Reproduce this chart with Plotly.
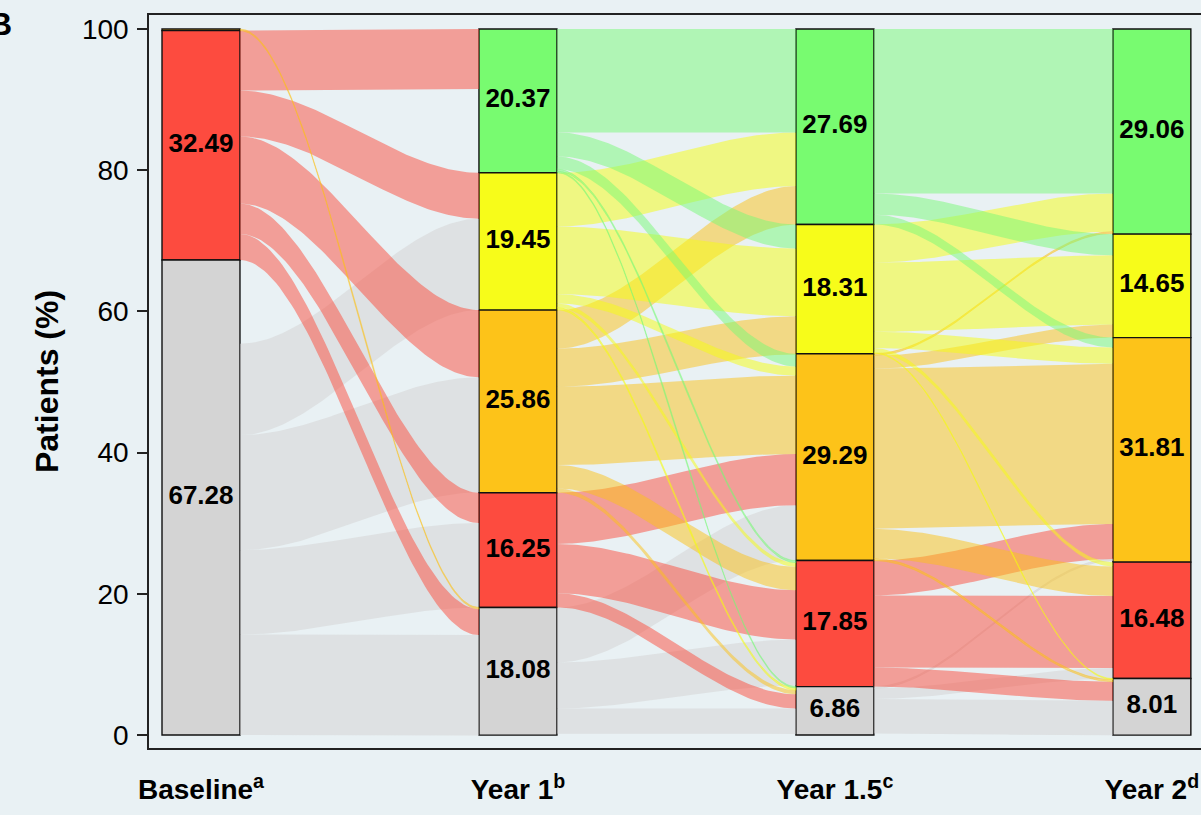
import numpy as np
import plotly.graph_objects as go

# Response categories, stacked top to bottom in every column
categories = ["green", "yellow", "orange", "red", "grey"]
bar_colors = ["#78FB70", "#F7FC1A", "#FDC319", "#FD4B3F", "#D4D4D4"]
flow_colors = ["rgba(120,249,118,0.5)", "rgba(246,253,16,0.5)", "rgba(252,193,22,0.5)",
               "rgba(252,75,60,0.5)", "rgba(212,209,210,0.5)"]

stage_labels = ["Baseline<sup>a</sup>", "Year 1<sup>b</sup>", "Year 1.5<sup>c</sup>", "Year 2<sup>d</sup>"]

# Share of patients (%) in each category at each visit
baseline_pct = [0.0, 0.0, 0.23, 32.49, 67.28]
year1_pct = [20.37, 19.45, 25.86, 16.25, 18.08]
year15_pct = [27.69, 18.31, 29.29, 17.85, 6.86]
year2_pct = [29.06, 14.65, 31.81, 16.48, 8.01]

# Transitions between consecutive visits (%): rows = from, columns = to
flows_base_y1 = [
    [0, 0, 0, 0, 0],
    [0, 0, 0, 0, 0],
    [0, 0, 0, 0, 0.23],
    [8.5, 6.5, 9.5, 4.3, 3.69],
    [11.85, 12.95, 16.3, 11.95, 14.23],
]
flows_y1_y15 = [
    [14.65, 3.4, 1.8, 0.3, 0.2],
    [7.6, 9.6, 1.3, 0.6, 0.3],
    [5.45, 5.4, 11.1, 3.3, 0.6],
    [0, 0, 7.25, 7.0, 2.0],
    [0, 0, 7.8, 6.5, 3.6],
]
flows_y15_y2 = [
    [23.3, 3.0, 1.4, 0, 0],
    [5.4, 9.8, 2.3, 0.6, 0.15],
    [0.25, 1.85, 22.7, 4.2, 0.3],
    [0, 0, 4.95, 10.2, 2.7],
    [0, 0, 0.25, 1.5, 4.9],
]
# (transition, from, to) links that keep their place in the stacks but are not painted
unpainted_links = {(0, 4, 0)}

columns = [baseline_pct, year1_pct, year15_pct, year2_pct]
transitions = [flows_base_y1, flows_y1_y15, flows_y15_y2]

BAR_HALF = 0.123
PAPER = "#E9F1F4"
FONT = "Liberation Sans"


def segment_tops(pcts):
    tops, acc = [], 100.0
    for p in pcts:
        tops.append(acc)
        acc -= p
    return tops


tops = [segment_tops(c) for c in columns]

fig = go.Figure()

# Ribbons: drawn from the bottom category upwards so lighter states sit on top
t = np.linspace(0.0, 1.0, 80)
ease = 3 * t ** 2 - 2 * t ** 3
for k, mat in enumerate(transitions):
    xa, xb = k + 1 + BAR_HALF, k + 2 - BAR_HALF
    xs = xa + (xb - xa) * t
    for i in reversed(range(len(categories))):
        for j in range(len(categories)):
            v = mat[i][j]
            if v <= 0 or (k, i, j) in unpainted_links:
                continue
            src_top = tops[k][i] - sum(mat[i][:j])
            tgt_top = tops[k + 1][j] - sum(mat[r][j] for r in range(i))
            upper = src_top + (tgt_top - src_top) * ease
            lower = upper - v
            fig.add_trace(go.Scatter(
                x=np.concatenate([xs, xs[::-1]]),
                y=np.concatenate([upper, lower[::-1]]),
                mode="lines", fill="toself", fillcolor=flow_colors[i],
                line=dict(width=0.8 if v < 0.5 else 0, color=flow_colors[i]),
                hoverinfo="skip", showlegend=False,
            ))

# Stacked category bars
xpos = [1, 2, 3, 4]
for c, name in enumerate(categories):
    heights = [col[c] if col[c] > 0 else None for col in columns]
    bases = [tops[s][c] - columns[s][c] for s in range(len(columns))]
    fig.add_trace(go.Bar(
        x=xpos, y=heights, base=bases, width=2 * BAR_HALF, name=name,
        marker=dict(color=bar_colors[c], line=dict(color="#111111", width=1.4)),
        hoverinfo="skip", showlegend=False,
    ))

# Percentage labels in the middle of each segment
lx, ly, lt = [], [], []
for s, col in enumerate(columns):
    for c, v in enumerate(col):
        if v >= 1:
            lx.append(xpos[s])
            ly.append(tops[s][c] - v / 2)
            lt.append(f"<b>{v:.2f}</b>")
fig.add_trace(go.Scatter(
    x=lx, y=ly, text=lt, mode="text",
    textfont=dict(family=FONT, size=26, color="black"),
    hoverinfo="skip", showlegend=False,
))

fig.update_layout(
    width=1201, height=815,
    margin=dict(l=149, r=0, t=15, b=67),
    paper_bgcolor=PAPER, plot_bgcolor=PAPER,
    barmode="overlay",
    font=dict(family=FONT, color="black"),
    xaxis=dict(
        range=[0.836, 4.155], tickvals=xpos,
        ticktext=[f"<b>{s}</b>" for s in stage_labels],
        tickfont=dict(size=28), ticks="", ticklabelstandoff=16,
        showgrid=False, zeroline=False,
        showline=True, linecolor="#222222", linewidth=1.5, mirror=True,
    ),
    yaxis=dict(
        range=[-1.84, 101.98], tickvals=[0, 20, 40, 60, 80, 100],
        tickfont=dict(size=28), ticks="outside", ticklen=10, tickwidth=1.5,
        tickcolor="#222222", ticklabelstandoff=3,
        showgrid=False, zeroline=False,
        showline=True, linecolor="#222222", linewidth=1.5,
        title=dict(text="<b>Patients (%)</b>", font=dict(size=32), standoff=14),
    ),
    annotations=[dict(
        text="<b>B</b>", xref="paper", yref="paper", x=0, y=1,
        xanchor="right", yanchor="middle", xshift=-135, yshift=-9,
        showarrow=False, font=dict(size=32, color="black"),
    )],
)

fig.write_html("out.html")
